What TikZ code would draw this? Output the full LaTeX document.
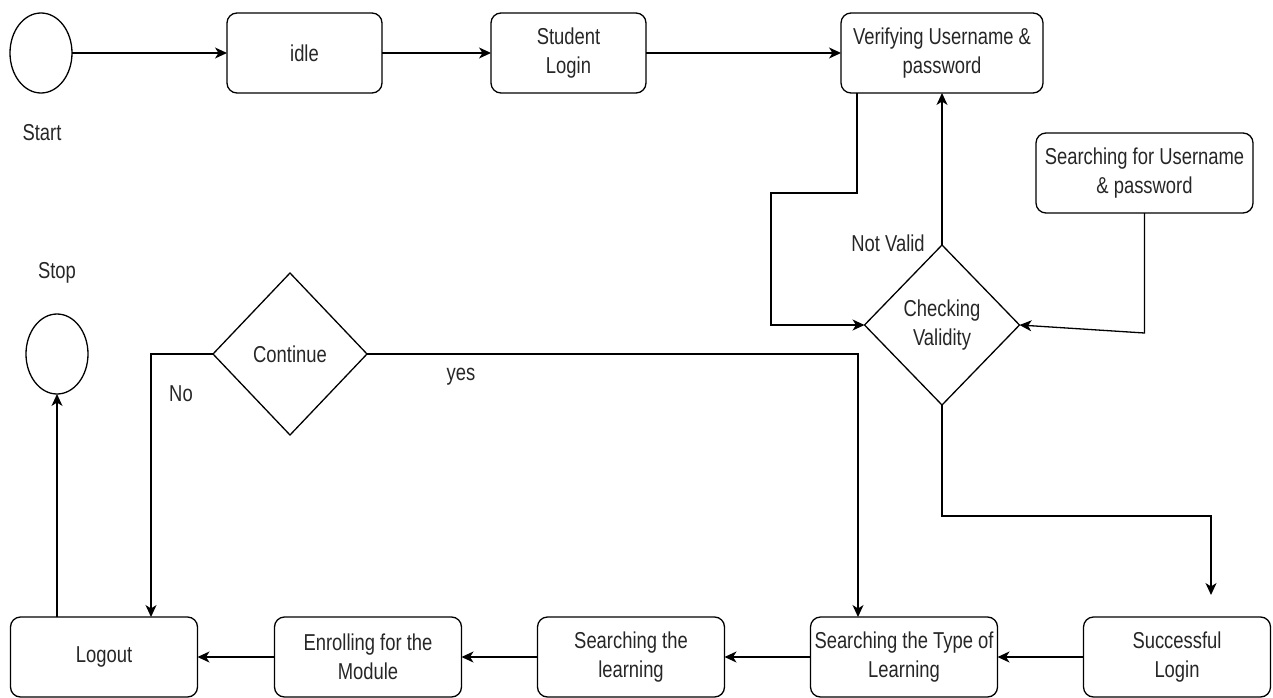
\documentclass[tikz,border=0pt]{standalone}
\usepackage{fontspec}
\setmainfont[FakeStretch=0.8]{Liberation Sans}
\usetikzlibrary{arrows.meta}
\usetikzlibrary{positioning}
\usetikzlibrary{shapes,shapes.geometric,calc}

\begin{document}
\begin{tikzpicture}[x=1pt,y=-1pt,-,>={Stealth[length=12pt,width=11pt,inset=3.5pt]},line width=1.3pt,
  every node/.style={font=\fontsize{23}{29}\selectfont,text=black!85},
  proc/.style={draw,rectangle,rounded corners=10pt,minimum height=80pt,inner sep=2pt,outer sep=0pt,align=center},
  choice/.style={draw,diamond,minimum width=155pt,minimum height=160pt,inner sep=0pt,outer sep=0pt,align=center},
  term/.style={draw,ellipse,minimum width=62pt,minimum height=80pt,inner sep=0pt,outer sep=0pt}]
\useasboundingbox (0,0) rectangle (1273,698);

\node[term] (start) at (41,53) {};
\node (startlbl) at (42,133) {Start};
\node[proc,minimum width=155pt] (idle) [right=155pt of start] {idle};
\node[proc,minimum width=155pt] (login) [right=109pt of idle] {Student\\Login};
\node[proc,minimum width=202pt] (verify) [right=195pt of login] {Verifying Username \&\\password};
\node[proc,minimum width=217pt] (search) at (1144.5,173) {Searching for Username\\\& password};
\node[choice] (check) [below=152pt of verify] {Checking\\Validity};
\node (notvalid) at (888,243) {Not Valid};

\node (stoplbl) at (57,273) {Stop};
\node[term] (stop) at (57,354) {};
\node[choice,minimum width=154pt,minimum height=162pt] (cont) at (290,354) {Continue};
\node (no) at (181,394) {No};
\node (yes) at (461,377) {yes};

\node[proc,minimum width=187pt] (logout) at (104,657) {Logout};
\node[proc,minimum width=187pt] (enrol) [right=77pt of logout] {Enrolling for the\\Module};
\node[proc,minimum width=187pt] (learn) [right=76pt of enrol] {Searching the\\learning};
\node[proc,minimum width=187pt] (ltype) [right=86pt of learn] {Searching the Type of\\Learning};
\node[proc,minimum width=187pt] (success) [right=86pt of ltype] {Successful\\Login};
\coordinate (succin) at ([xshift=34pt,yshift=22pt]success.north);

\draw[->] (start) -- (idle);
\draw[->] (idle) -- (login);
\draw[->] (login) -- (verify);
\draw[->] ([xshift=-85pt]verify.south) -- ++(0,100) -- ++(-86,0) |- (check.west);
\draw[->] (check.north) -- (check.north |- verify.south);
\draw[->] (search.south) -- ++(0,120) -- (check.east);
\draw[->] (check.south) -- ++(0,111) -| (succin);

\draw[->] (success) -- (ltype);
\draw[->] (ltype) -- (learn);
\draw[->] (learn) -- (enrol);
\draw[->] (enrol) -- (logout);

\draw[->] (cont.east) -| ([xshift=-46pt]ltype.north);
\draw[->] (cont.west) -| ([xshift=47pt]logout.north);
\draw[->] ([xshift=-47pt]logout.north) -- (stop.south);
\end{tikzpicture}
\end{document}
